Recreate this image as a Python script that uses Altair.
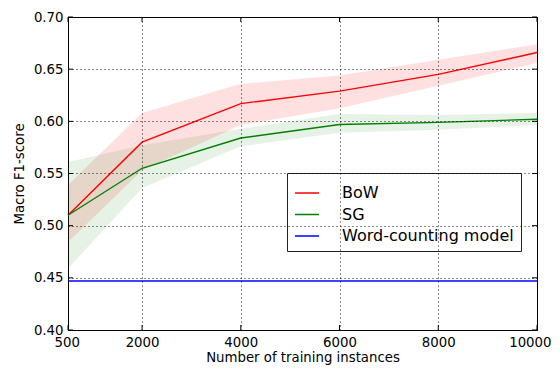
import altair as alt
import pandas as pd

# ---- data ----
train_sizes = [500, 2000, 4000, 6000, 8000, 10000]
bow_mean = [0.510, 0.580, 0.617, 0.629, 0.645, 0.666]
bow_low = [0.484, 0.553, 0.5965, 0.6125, 0.634, 0.656]
bow_high = [0.539, 0.608, 0.636, 0.644, 0.659, 0.674]
sg_mean = [0.510, 0.555, 0.584, 0.597, 0.599, 0.602]
sg_low = [0.459, 0.536, 0.576, 0.589, 0.592, 0.5965]
sg_high = [0.561, 0.577, 0.593, 0.607, 0.606, 0.608]
wc_score = [0.447, 0.447, 0.447, 0.447, 0.447, 0.447]

series_names = ["BoW", "SG", "Word-counting model"]
series_colors = ["#ff0000", "#008000", "#0000ff"]
x_ticks = [500, 2000, 4000, 6000, 8000, 10000]
y_ticks = [0.40, 0.45, 0.50, 0.55, 0.60, 0.65, 0.70]

W, H = 469, 313
FONT = "DejaVu Sans"

lines_df = pd.concat([
    pd.DataFrame({"n": train_sizes, "score": bow_mean, "model": "BoW"}),
    pd.DataFrame({"n": train_sizes, "score": sg_mean, "model": "SG"}),
    pd.DataFrame({"n": train_sizes, "score": wc_score, "model": "Word-counting model"}),
])
bow_band = pd.DataFrame({"n": train_sizes, "lo": bow_low, "hi": bow_high})
sg_band = pd.DataFrame({"n": train_sizes, "lo": sg_low, "hi": sg_high})

xscale = alt.Scale(domain=[500, 10000], nice=False, zero=False)
yscale = alt.Scale(domain=[0.40, 0.70], nice=False, zero=False)

x_axis = alt.Axis(values=x_ticks, format="d", title="Number of training instances",
                  grid=True, gridColor="black", gridDash=[1, 3], gridWidth=1, gridOpacity=0.9,
                  domain=False, ticks=False, labelPadding=5, labelFontSize=13.3,
                  labelFont=FONT, labelColor="black", titleFont=FONT, titleFontSize=13.3,
                  titleFontWeight="normal", titleColor="black", titlePadding=2,
                  labelOverlap=False, labelFlush=True, labelFlushOffset=14, zindex=1)
y_axis = alt.Axis(values=y_ticks, format=".2f", title="Macro F1-score",
                  grid=True, gridColor="black", gridDash=[1, 3], gridWidth=1, gridOpacity=0.9,
                  domain=False, ticks=False, labelPadding=5, labelFontSize=13.3,
                  labelFont=FONT, labelColor="black", titleFont=FONT, titleFontSize=13.3,
                  titleFontWeight="normal", titleColor="black", titlePadding=7,
                  labelOverlap=False, labelFlush=False, zindex=1)

band_bow = alt.Chart(bow_band).mark_area(color="#ff0000", opacity=0.12).encode(
    x=alt.X("n:Q", scale=xscale, axis=x_axis),
    y=alt.Y("lo:Q", scale=yscale, axis=y_axis),
    y2="hi:Q",
)
band_sg = alt.Chart(sg_band).mark_area(color="#008000", opacity=0.1).encode(
    x=alt.X("n:Q", scale=xscale),
    y=alt.Y("lo:Q", scale=yscale),
    y2="hi:Q",
)

lines = alt.Chart(lines_df).mark_line(strokeWidth=1.4).encode(
    x=alt.X("n:Q", scale=xscale),
    y=alt.Y("score:Q", scale=yscale),
    color=alt.Color(
        "model:N",
        scale=alt.Scale(domain=series_names, range=series_colors),
        sort=series_names,
        legend=alt.Legend(
            title=None, orient="none", legendX=219, legendY=156,
            strokeColor="#222222", fillColor="white", padding=7, cornerRadius=0,
            labelFont=FONT, labelFontSize=16, labelColor="black", labelOffset=22,
            symbolType="stroke", symbolSize=576, symbolStrokeWidth=1.5,
            rowPadding=0.5, labelLimit=400,
        ),
    ),
)

# inward ticks on all four sides
xt = pd.DataFrame({"n": x_ticks})
yt = pd.DataFrame({"v": y_ticks})
tick_style = dict(color="black", strokeWidth=1)
xt_bottom = alt.Chart(xt).mark_rule(**tick_style).encode(
    x=alt.X("n:Q", scale=xscale), y=alt.value(H), y2=alt.value(H - 5))
xt_top = alt.Chart(xt).mark_rule(**tick_style).encode(
    x=alt.X("n:Q", scale=xscale), y=alt.value(0), y2=alt.value(5))
yt_left = alt.Chart(yt).mark_rule(**tick_style).encode(
    y=alt.Y("v:Q", scale=yscale), x=alt.value(0), x2=alt.value(5))
yt_right = alt.Chart(yt).mark_rule(**tick_style).encode(
    y=alt.Y("v:Q", scale=yscale), x=alt.value(W), x2=alt.value(W - 5))

chart = alt.layer(band_bow, band_sg, lines, xt_bottom, xt_top, yt_left, yt_right).properties(
    width=W, height=H,
    autosize=alt.AutoSizeParams(type="none"),
    padding={"left": 60, "top": 9, "right": 15, "bottom": 37},
    background="white",
).configure_view(stroke="black", strokeWidth=1)

chart.save("out.html", embed_options={"renderer": "svg", "actions": False})
